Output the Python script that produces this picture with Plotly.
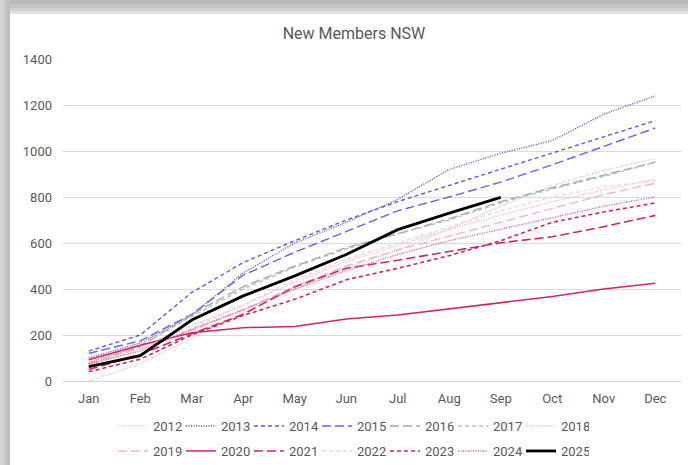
import plotly.graph_objects as go

months = ["Jan", "Feb", "Mar", "Apr", "May", "Jun", "Jul", "Aug", "Sep", "Oct", "Nov", "Dec"]

y2012 = [0, 75, 185, 300, 400, 490, 570, 660, 760, 850, 915, 968]
y2013 = [100, 165, 285, 470, 600, 690, 790, 920, 990, 1045, 1160, 1240]
y2014 = [130, 200, 385, 515, 610, 700, 780, 850, 920, 990, 1060, 1132]
y2015 = [120, 175, 290, 460, 560, 650, 740, 800, 865, 940, 1020, 1100]
y2016 = [75, 150, 290, 410, 500, 580, 640, 705, 780, 840, 895, 952]
y2017 = [80, 155, 280, 400, 495, 575, 640, 700, 775, 835, 890, 950]
y2018 = [85, 150, 240, 330, 430, 520, 590, 660, 720, 780, 830, 878]
y2019 = [80, 140, 220, 310, 410, 500, 570, 630, 690, 750, 810, 860]
y2020 = [92, 155, 210, 232, 237, 270, 287, 314, 343, 367, 400, 425]
y2021 = [50, 115, 205, 290, 410, 490, 525, 562, 601, 627, 671, 720]
y2022 = [70, 140, 230, 330, 440, 530, 600, 670, 740, 800, 845, 870]
y2023 = [40, 95, 200, 285, 355, 440, 490, 545, 610, 690, 735, 774]
y2024 = [75, 130, 225, 310, 400, 480, 550, 610, 660, 710, 760, 800]
y2025 = [62, 110, 265, 370, 457, 550, 658, 730, 798]

series = [
    ("2012", y2012, "#c4c4c4", "1px,1.5px", 1.3, "legend"),
    ("2013", y2013, "#4b4bdc", "1px,1.5px", 1.4, "legend"),
    ("2014", y2014, "#5a5ae6", "4px,3px", 1.4, "legend"),
    ("2015", y2015, "#6464e6", "9px,4px", 1.4, "legend"),
    ("2016", y2016, "#a8a8a8", "9px,4px", 1.4, "legend"),
    ("2017", y2017, "#bdbdbd", "4px,3px", 1.4, "legend"),
    ("2018", y2018, "#f2b3c6", "1px,1.5px", 1.4, "legend"),
    ("2019", y2019, "#f4b5c7", "9px,4px", 1.4, "legend2"),
    ("2020", y2020, "#d6245b", "solid", 1.5, "legend2"),
    ("2021", y2021, "#d6245b", "9px,4px", 1.6, "legend2"),
    ("2022", y2022, "#f8d3de", "4px,3px", 1.4, "legend2"),
    ("2023", y2023, "#d6245b", "4px,3px", 1.6, "legend2"),
    ("2024", y2024, "#e0537f", "1px,1.5px", 1.4, "legend2"),
    ("2025", y2025, "#000000", "solid", 2.8, "legend2"),
]

fig = go.Figure()
for name, vals, color, dash, width, lg in series:
    fig.add_trace(go.Scatter(
        x=months[:len(vals)], y=vals, name=name, mode="lines",
        line=dict(color=color, dash=dash, width=width),
        legend=lg,
    ))

W, H = 688, 465
L, R, T, B = 63, 7, 59, 84
pw, ph = W - L - R, H - T - B

def px_x(p):
    return (p - L) / pw

def px_y(p):
    return (H - B - p) / ph

shapes = []
# card shadow on top and left
tb = [(0, 4, "#b8b8b8"), (4, 8, "#c4c4c4"), (8, 11, "#d2d2d2"), (11, 14, "#e2e2e2")]
for a, b, c in tb:
    shapes.append(dict(type="rect", xref="paper", yref="paper",
                       x0=px_x(0), x1=px_x(W), y0=px_y(b), y1=px_y(a),
                       fillcolor=c, line=dict(width=0), layer="below"))
bands = [(0, 4, "#d2d2d2"), (4, 7, "#c8c8c8"), (7, 10, "#bdbdbd")]
for a, b, c in bands:
    shapes.append(dict(type="rect", xref="paper", yref="paper",
                       x0=px_x(a), x1=px_x(b), y0=px_y(H), y1=px_y(0),
                       fillcolor=c, line=dict(width=0), layer="below"))

font_family = "Roboto, Inter, Arial, sans-serif"
fig.update_layout(
    width=W, height=H,
    margin=dict(l=L, r=R, t=T, b=B, autoexpand=False),
    paper_bgcolor="white", plot_bgcolor="white",
    font=dict(family=font_family, size=13, color="#595959"),
    title=dict(text="New Members NSW", x=354 / W, xanchor="center", xref="container",
               y=1 - 33 / H, yanchor="middle", yref="container",
               font=dict(size=16, color="#595959", family=font_family)),
    xaxis=dict(type="category", categoryorder="array", categoryarray=months,
               range=[-0.5, 11.5], showgrid=False, showline=False, ticks="",
               ticklabelstandoff=8, tickfont=dict(size=13)),
    yaxis=dict(range=[0, 1400], dtick=200, gridcolor="#d9d9d9", gridwidth=1,
               zeroline=True, zerolinecolor="#d0d0d0", zerolinewidth=1,
               showline=False, ticks="", ticklabelstandoff=10, tickfont=dict(size=13)),
    legend=dict(orientation="h", xref="container", yref="container",
                x=113 / W, y=1 - 426 / H, xanchor="left", yanchor="middle",
                entrywidth=23, font=dict(size=13), bgcolor="rgba(0,0,0,0)"),
    legend2=dict(orientation="h", xref="container", yref="container",
                 x=113 / W, y=1 - 451 / H, xanchor="left", yanchor="middle",
                 entrywidth=23, font=dict(size=13), bgcolor="rgba(0,0,0,0)"),
    shapes=shapes,
    showlegend=True,
)

fig.write_html("out.html", config={"displayModeBar": False},
               post_script="document.body.style.margin='0';document.body.style.overflow='hidden';")
